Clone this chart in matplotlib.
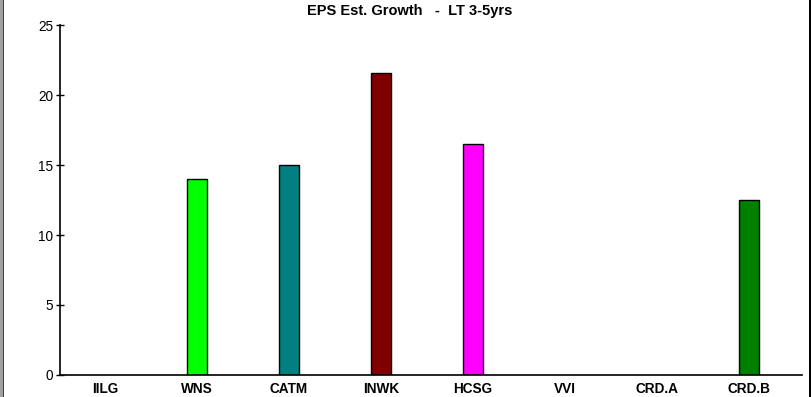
import matplotlib.pyplot as plt
from matplotlib.patches import Rectangle

# tickers and long-term EPS growth estimates (%)
tickers = ['IILG', 'WNS', 'CATM', 'INWK', 'HCSG', 'VVI', 'CRD.A', 'CRD.B']
growth = [0, 14.0, 15.0, 21.6, 16.5, 0, 0, 12.5]
colors = ['#ffffff', '#00ff00', '#008080', '#800000', '#ff00ff', '#ffffff', '#ffffff', '#008000']
yticks = [0, 5, 10, 15, 20, 25]

plt.rcParams['font.family'] = ['Liberation Sans', 'DejaVu Sans']

fig = plt.figure(figsize=(8.11, 3.97), dpi=100)
ax = fig.add_axes([60/811, 22/397, 742/811, 350/397])

x = list(range(len(tickers)))
for i in x:
    if growth[i] > 0:
        ax.bar(i, growth[i], width=0.217, color=colors[i], edgecolor='black', linewidth=1)

# category spacing ~92 px, first centre ~45 px right of the y axis
ax.set_xlim(-0.489, 7.576)
ax.set_ylim(0, 25)
ax.set_xticks(x)
ax.set_xticklabels(tickers, fontsize=9.8, fontweight='bold')
ax.set_yticks(yticks)
ax.set_yticklabels([str(v) for v in yticks], fontsize=9.8)
ax.tick_params(axis='x', length=0, pad=5)
ax.tick_params(axis='y', direction='inout', length=6, width=1, pad=2)
ax.spines['top'].set_visible(False)
ax.spines['right'].set_visible(False)
ax.spines['left'].set_linewidth(1.2)
ax.spines['bottom'].set_linewidth(1.2)

fig.text(0.5 + 4/811, 1 - 11/397, 'EPS Est. Growth   -  LT 3-5yrs', ha='center', va='center',
         fontsize=10.5, fontweight='bold')

# window frame: gray strip on the left, black line on the right
fig.patches.append(Rectangle((0, 0), 3/811, 1, transform=fig.transFigure,
                             facecolor='#a0a0a0', edgecolor='none'))
fig.patches.append(Rectangle((3/811, 0), 1/811, 1, transform=fig.transFigure,
                             facecolor='#404040', edgecolor='none'))
fig.patches.append(Rectangle((809/811, 0), 2/811, 1, transform=fig.transFigure,
                             facecolor='black', edgecolor='none'))

fig.savefig('out.png', dpi=100)
